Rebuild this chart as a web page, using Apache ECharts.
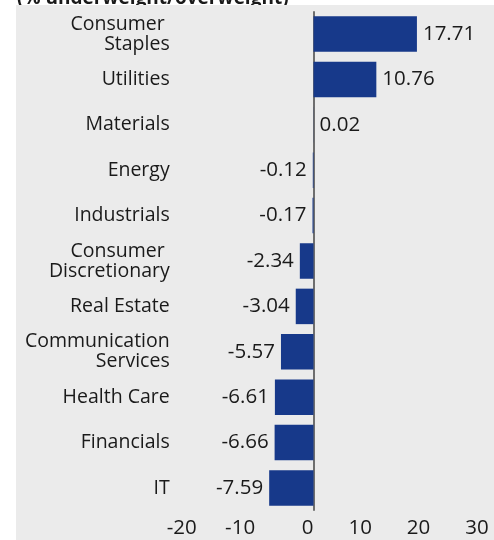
<!DOCTYPE html>
<html>
<head>
<meta charset="utf-8">
<style>
html,body{margin:0;padding:0;background:#fff;}
#chart{width:494px;height:540px;}
</style>
<script src="https://cdn.jsdelivr.net/npm/echarts@6/dist/echarts.min.js"></script>
</head>
<body>
<div id="chart"></div>
<script>
var categories = ['Consumer \nStaples', 'Utilities', 'Materials', 'Energy', 'Industrials', 'Consumer \nDiscretionary', 'Real Estate', 'Communication\nServices', 'Health Care', 'Financials', 'IT'];
var values = [17.71, 10.76, 0.02, -0.12, -0.17, -2.34, -3.04, -5.57, -6.61, -6.66, -7.59];
var xTicks = [-20, -10, 0, 10, 20, 30];
var titleText = '(% underweight/overweight)';

var FONT = 'Open Sans';
var FS = 19.5;
var NFS = 20.5;
var chart = echarts.init(document.getElementById('chart'), null, {renderer: 'canvas'});
chart.setOption({
  backgroundColor: '#ffffff',
  animation: false,
  graphic: [
    {type: 'text', z: 0, x: 17, y: 8, style: {text: titleText, font: 'bold 19px "' + FONT + '"', fill: '#1a1a1a', textVerticalAlign: 'bottom'}},
    {type: 'rect', z: 1, shape: {x: 16, y: 5, width: 478, height: 535}, style: {fill: '#ebebeb'}}
  ],
  grid: {left: 196.7, right: 5.3, top: 11.3, bottom: 29.3, containLabel: false},
  xAxis: {
    type: 'value', min: xTicks[0], max: xTicks[xTicks.length - 1], interval: 10, z: 5,
    axisLine: {show: false}, axisTick: {show: false}, splitLine: {show: false},
    axisLabel: {align: 'right', margin: 7, fontFamily: FONT, fontSize: NFS, color: '#1a1a1a'}
  },
  yAxis: {
    type: 'category', data: categories, inverse: true, z: 5,
    axisLine: {show: false}, axisTick: {show: false},
    axisLabel: {margin: 27, fontFamily: FONT, fontSize: FS, lineHeight: 20, color: '#1a1a1a', align: 'right'}
  },
  series: [{
    type: 'bar', z: 5,
    barWidth: 35.5,
    itemStyle: {color: '#17398a'},
    data: values.map(function (v) {
      return {value: v, label: {position: v >= 0 ? 'right' : 'left'}};
    }),
    label: {show: true, distance: 6, fontFamily: FONT, fontSize: NFS, color: '#1a1a1a',
      formatter: function (p) { return p.value.toFixed(2); }},
    markLine: {
      silent: true, symbol: 'none', label: {show: false},
      lineStyle: {color: '#444', width: 1.5, type: 'solid'},
      data: [{xAxis: 0}]
    }
  }]
});
</script>
</body>
</html>
